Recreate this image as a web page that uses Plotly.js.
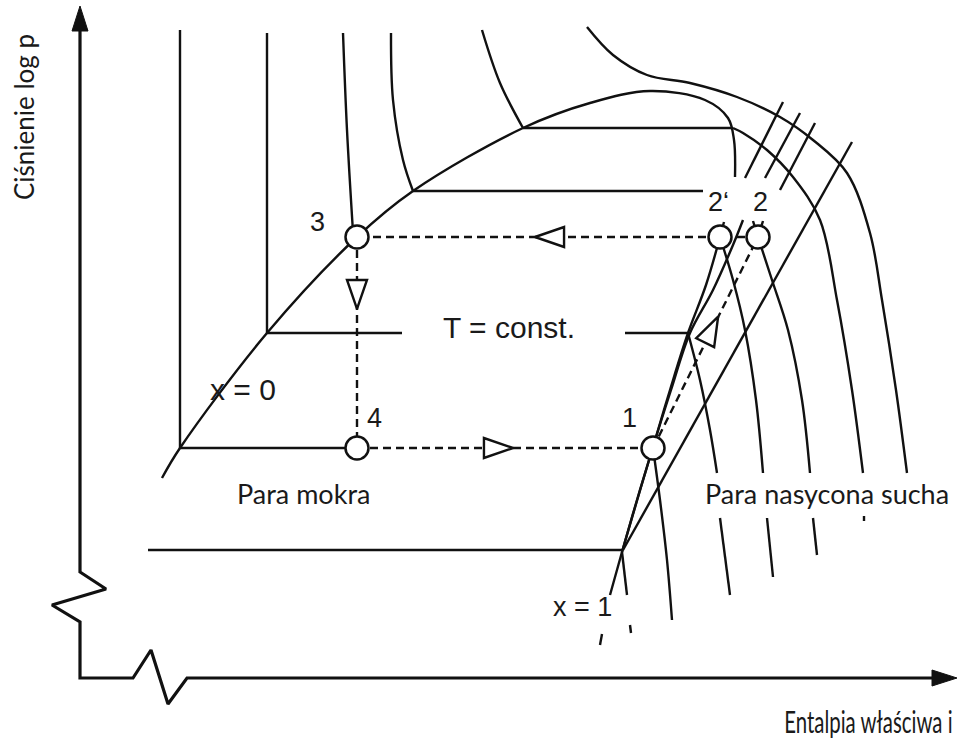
<!DOCTYPE html>
<html>
<head>
<meta charset="utf-8">
<script src="https://cdn.plot.ly/plotly-3.0.1.min.js"></script>
<style>
  html, body { margin: 0; padding: 0; background: #ffffff; }
  #chart { width: 957px; height: 742px; }
</style>
</head>
<body>
<div id="chart"></div>
<script>
// log p – h diagram of a refrigeration cycle (schematic, diagram units: h → right, log p → up)

// axis frame with break marks
const frameH = [80, 80, 106, 52, 80, 80, 133, 151, 168, 187, 938];
const frameP = [28, 572, 589, 605, 622, 678, 678, 650, 704, 678, 678];

// saturation dome (x = 0 branch, top, start of x = 1 branch)
const domeH = [162, 180, 267, 357, 413, 523, 590, 650, 705, 728, 734, 735];
const domeP = [478, 448, 333, 237, 191, 128, 103, 91, 100, 118, 140, 177];

// x = 1 branch below the 2' / 2 labels
const satVapH = [720, 706, 688, 670, 653, 637, 622, 610];
const satVapP = [237, 285, 333, 390, 447, 500, 552, 595];
const satVapTailH = [602, 600];
const satVapTailP = [634, 645];

// isentrope through 1
const isenH = [743, 733, 713, 690, 671, 653, 622];
const isenP = [220, 245, 290, 333, 390, 447, 552];
const isenLowH = [622, 627];
const isenLowP = [552, 595];
const isenTailH = [630, 631];
const isenTailP = [625, 633];

// s = const lines in the superheated region
const longDiagH = [852, 623];
const longDiagP = [142, 550];
const diag1H = [783, 745];
const diag1P = [102, 178];
const diag2H = [800, 765];
const diag2P = [113, 178];
const diag3H = [815, 780];
const diag3P = [123, 190];
const tick1H = [724, 720];
const tick1P = [222, 237];
const tick2H = [753, 758];
const tick2P = [221, 237];
const tick3H = [763, 758];
const tick3P = [221, 237];

// isotherms in the superheated region (upper part / part below the label)
const iso1H = [688, 700, 710, 717];
const iso1P = [333, 380, 430, 473];
const iso1LowH = [720, 730];
const iso1LowP = [518, 595];
const iso2H = [720, 733, 745, 756, 763];
const iso2P = [237, 280, 330, 400, 473];
const iso2LowH = [767, 773];
const iso2LowP = [518, 577];
const iso3H = [758, 772, 788, 802, 810];
const iso3P = [237, 280, 330, 400, 473];
const iso3LowH = [813, 817];
const iso3LowP = [518, 555];
const iso4H = [733, 743, 767, 793, 820, 837, 852, 863];
const iso4P = [128, 133, 150, 177, 220, 300, 390, 473];
const iso4LowH = [864, 864];
const iso4LowP = [516, 521];
const iso5H = [587, 613, 647, 690, 737, 780, 813, 847, 870, 882, 896, 907];
const iso5P = [27, 55, 75, 83, 97, 117, 140, 173, 233, 300, 390, 473];
const isoEvapH = [653, 660, 667, 672];
const isoEvapP = [448, 500, 560, 620];

// isotherms in the liquid region and across the wet region
const liq1H = [180, 180, 355];
const liq1P = [30, 448, 448];
const liq2H = [267, 267, 402];
const liq2P = [33, 333, 333];
const tConstRightH = [625, 688];
const tConstRightP = [333, 333];
const liq3H = [343, 347, 353];
const liq3P = [33, 130, 232];
const liq4H = [391, 393, 403, 413];
const liq4P = [33, 100, 160, 191];
const liq5H = [482, 500, 523];
const liq5P = [30, 83, 128];
const wet190H = [413, 703];
const wet190P = [191, 191];
const wet128H = [523, 733];
const wet128P = [128, 128];
const wet550H = [148, 623];
const wet550P = [550, 550];

// cycle state points 3, 4, 1, 2', 2
const stateNames = ['3', '4', '1', '2\u2018', '2'];
const stateH = [357, 357, 653, 720, 758];
const stateP = [237, 448, 448, 237, 237];

// cycle paths (dashed): 2 → 2' → 3, 3 → 4, 4 → 1, 1 → 2
const condH = [758, 357];
const condP = [237, 237];
const throttleH = [357, 357];
const throttleP = [237, 448];
const evapH = [357, 653];
const evapP = [448, 448];
const compH = [653, 758];
const compP = [448, 237];

// flow-direction markers: centre and direction
const flowH = [551, 357, 497, 711];
const flowP = [237, 293, 448, 331];
const flowDirH = [-1, 0, 1, 105];
const flowDirP = [0, 1, 0, -211];

const ink = '#111111';
const lw = 2.4;
const traces = [];

function line(h, p, opts) {
  opts = opts || {};
  traces.push({
    type: 'scatter', mode: 'lines', x: h, y: p,
    hoverinfo: 'skip',
    line: {
      color: ink,
      width: opts.width || lw,
      shape: opts.spline ? 'spline' : 'linear',
      smoothing: opts.spline ? 1 : undefined,
      dash: opts.dash || 'solid'
    }
  });
}

// frame
line(frameH, frameP, { width: 3.2 });
// axis arrowheads
traces.push({ type: 'scatter', mode: 'lines', x: [72, 80, 88, 72], y: [31, 6, 31, 31],
  fill: 'toself', fillcolor: ink, line: { color: ink, width: 1 }, hoverinfo: 'skip' });
traces.push({ type: 'scatter', mode: 'lines', x: [932, 957, 932, 932], y: [670, 678, 686, 670],
  fill: 'toself', fillcolor: ink, line: { color: ink, width: 1 }, hoverinfo: 'skip' });

// wet region and liquid isotherms
line(liq1H, liq1P);
line(liq2H, liq2P);
line(tConstRightH, tConstRightP);
line(liq3H, liq3P, { spline: true });
line(liq4H, liq4P, { spline: true });
line(liq5H, liq5P, { spline: true });
line(wet190H, wet190P);
line(wet128H, wet128P);
line(wet550H, wet550P);

// dome
line(domeH, domeP, { spline: true });
line(satVapH, satVapP, { spline: true });
line(satVapTailH, satVapTailP);

// isentropes
line(isenH, isenP, { spline: true });
line(isenLowH, isenLowP);
line(isenTailH, isenTailP);
line(longDiagH, longDiagP);
line(diag1H, diag1P);
line(diag2H, diag2P);
line(diag3H, diag3P);
line(tick1H, tick1P);
line(tick2H, tick2P);
line(tick3H, tick3P);

// superheated isotherms
[[iso1H, iso1P], [iso2H, iso2P], [iso3H, iso3P], [iso4H, iso4P], [iso5H, iso5P], [isoEvapH, isoEvapP]]
  .forEach(c => line(c[0], c[1], { spline: true }));
[[iso1LowH, iso1LowP], [iso2LowH, iso2LowP], [iso3LowH, iso3LowP], [iso4LowH, iso4LowP]]
  .forEach(c => line(c[0], c[1]));

// cycle
const dashed = { dash: '8px,5px', width: 2.4 };
line(condH, condP, dashed);
line(throttleH, throttleP, dashed);
line(evapH, evapP, dashed);
line(compH, compP, dashed);

// open triangles showing flow direction
const triLen = 29, triHalf = 10;
for (let i = 0; i < flowH.length; i++) {
  const n = Math.hypot(flowDirH[i], flowDirP[i]);
  const ux = flowDirH[i] / n, uy = flowDirP[i] / n;
  const nx = -uy, ny = ux;
  const ax = flowH[i] + 0.55 * triLen * ux, ay = flowP[i] + 0.55 * triLen * uy;
  const bx = flowH[i] - 0.45 * triLen * ux, by = flowP[i] - 0.45 * triLen * uy;
  traces.push({
    type: 'scatter', mode: 'lines', hoverinfo: 'skip',
    x: [ax, bx + triHalf * nx, bx - triHalf * nx, ax],
    y: [ay, by + triHalf * ny, by - triHalf * ny, ay],
    fill: 'toself', fillcolor: '#ffffff',
    line: { color: ink, width: 2.4 }
  });
}

// state points
traces.push({
  type: 'scatter', mode: 'markers', x: stateH, y: stateP, text: stateNames,
  hoverinfo: 'text',
  marker: { symbol: 'circle', size: 23, color: '#ffffff', line: { color: ink, width: 2.5 } }
});

const helv = 'Liberation Sans, Arial, sans-serif';
const sans = 'Lato, Carlito, sans-serif';
function label(text, h, p, size, family, extra) {
  return Object.assign({
    text: text, x: h, y: p, xref: 'x', yref: 'y', showarrow: false,
    font: { family: family, size: size, color: '#1a1a1a' }
  }, extra || {});
}

const stateLabelH = [317, 374, 629, 718, 760];
const stateLabelP = [222, 418, 418, 202, 202];

const annotations = stateNames.map((s, i) => label(s, stateLabelH[i], stateLabelP[i], 27, helv));
annotations.push(label('x = 0', 243, 389, 30, helv));
annotations.push(label('T = const.', 509, 327, 30, helv));
annotations.push(label('x = 1', 582, 607, 27, helv));
annotations.push(label('Para mokra', 303, 493, 27, sans));
annotations.push(label('Para nasycona sucha', 827, 493, 27, sans));
annotations.push(label('Ciśnienie log p', 24, 117, 26, sans, { textangle: -90 }));
annotations.push(label('Entalpia właściwa i', 955, 721, 30, sans, { xanchor: 'right' }));

const layout = {
  width: 957, height: 742,
  margin: { l: 0, r: 0, t: 0, b: 0 },
  paper_bgcolor: '#ffffff', plot_bgcolor: '#ffffff',
  showlegend: false,
  xaxis: { range: [0, 957], visible: false, fixedrange: true },
  yaxis: { range: [742, 0], visible: false, fixedrange: true },
  annotations: annotations
};

Plotly.newPlot('chart', traces, layout, { staticPlot: true }).then(gd => {
  // narrow the enthalpy axis caption, anchored at its right edge
  gd.querySelectorAll('.annotation-text').forEach(t => {
    if (t.textContent.indexOf('Entalpia') === 0) {
      const bb = t.getBBox();
      const cx = bb.x + bb.width;
      t.setAttribute('transform', 'translate(' + cx + ',0) scale(0.68,1) translate(' + (-cx) + ',0)');
    }
  });
});
</script>
</body>
</html>
